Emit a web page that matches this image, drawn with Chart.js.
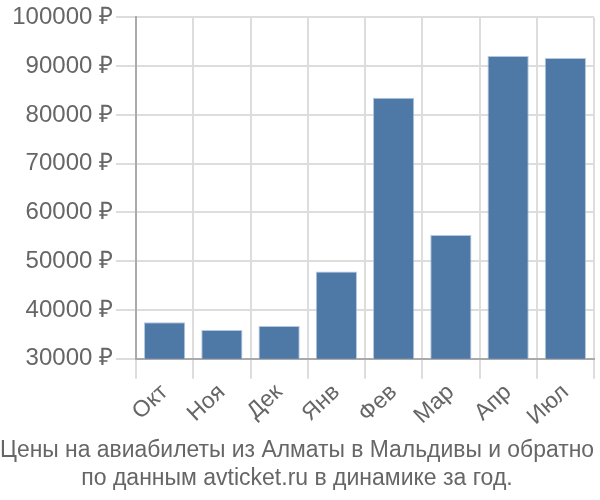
<!DOCTYPE html>
<html><head><meta charset="utf-8">
<script src="https://cdn.jsdelivr.net/npm/chart.js@4/dist/chart.umd.min.js"></script>
<style>html,body{margin:0;padding:0;background:#fff}#w{width:600px;height:500px}</style>
</head><body><div id="w"><canvas id="c"></canvas></div>
<script>
const categories = ["Окт","Ноя","Дек","Янв","Фев","Мар","Апр","Июл"];
const prices = [37500, 35900, 36700, 47900, 83500, 55400, 92100, 91700];
const titleLines = ["Цены на авиабилеты из Алматы в Мальдивы и обратно","по данным avticket.ru в динамике за год."];
const yMin = 30000, yMax = 100000, yStep = 10000;

Chart.defaults.font.family = "'Liberation Sans', Arial, sans-serif";
Chart.defaults.color = "#666";
new Chart(document.getElementById('c'), {
  type: 'bar',
  data: { labels: categories, datasets: [{ data: prices, backgroundColor: '#4e79a7', borderColor: 'rgba(160,185,215,0.8)', borderWidth: 1, barPercentage: 0.72, categoryPercentage: 1 }] },
  options: {
    responsive: true, maintainAspectRatio: false, animation: false,
    layout: { padding: { right: 6, top: -3, left: 0, bottom: 8 } },
    plugins: {
      legend: { display: false },
      tooltip: { enabled: false },
      title: { display: true, position: 'bottom', text: titleLines, font: { size: 23, weight: 'normal' }, color: '#666', padding: { top: 6, bottom: 0 }, lineHeight: 1.27 }
    },
    scales: {
      x: {
        grid: { offset: true, color: '#ddd', lineWidth: 2, tickLength: 20 },
        border: { color: '#aaa', width: 2 },
        ticks: { font: { size: 23 }, color: '#666', minRotation: 43, maxRotation: 43, padding: 0 }
      },
      y: {
        min: yMin, max: yMax,
        afterFit: s => { s.width = 136; },
        grid: { color: '#ddd', lineWidth: 2, tickLength: 20 },
        border: { color: '#aaa', width: 2 },
        ticks: { stepSize: yStep, font: { size: 24 }, color: '#666', padding: 3, callback: v => v + ' ₽' }
      }
    }
  }
});
</script></body></html>
